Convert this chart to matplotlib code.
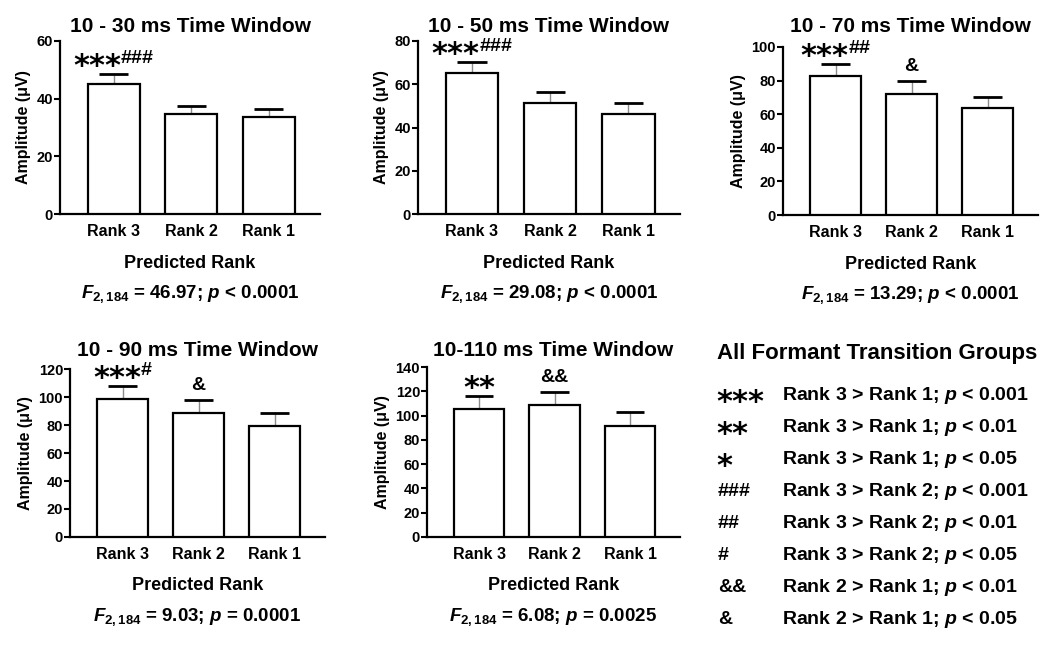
import matplotlib
matplotlib.use('Agg')
import matplotlib.pyplot as plt
import numpy as np

plt.rcParams['font.family'] = ['Liberation Sans', 'DejaVu Sans']
plt.rcParams['font.weight'] = 'bold'
plt.rcParams['axes.labelweight'] = 'bold'
plt.rcParams['mathtext.fontset'] = 'custom'
plt.rcParams['mathtext.rm'] = 'Liberation Sans:bold'
plt.rcParams['mathtext.it'] = 'Liberation Sans:italic:bold'
plt.rcParams['mathtext.bf'] = 'Liberation Sans:bold'
plt.rcParams['mathtext.sf'] = 'Liberation Sans:bold'

# data
ranks = ['Rank 3', 'Rank 2', 'Rank 1']
titles = ['10 - 30 ms Time Window', '10 - 50 ms Time Window', '10 - 70 ms Time Window',
          '10 - 90 ms Time Window', '10-110 ms Time Window']
means_30 = [45.2, 34.7, 33.6]
sem_30 = [3.2, 2.8, 2.9]
means_50 = [65.1, 51.2, 46.1]
sem_50 = [5.2, 5.2, 5.1]
means_70 = [82.7, 72.3, 63.6]
sem_70 = [7.2, 7.4, 6.8]
means_90 = [98.6, 88.6, 79.5]
sem_90 = [9.4, 9.0, 9.3]
means_110 = [105.3, 108.3, 91.8]
sem_110 = [10.5, 11.4, 11.3]
y_max = [60, 80, 100, 120, 140]
f_values = ['46.97', '29.08', '13.29', '9.03', '6.08']
p_values = ['< 0.0001', '< 0.0001', '< 0.0001', '= 0.0001', '= 0.0025']
# significance marks per bar: (main, superscript)
marks = [
    [('***', '###'), None, None],
    [('***', '###'), None, None],
    [('***', '##'), ('&', ''), None],
    [('***', '#'), ('&', ''), None],
    [('**', ''), ('&&', ''), None],
]
legend_symbols = ['***', '**', '*', '###', '##', '#', '&&', '&']
legend_texts = ['Rank 3 > Rank 1; $p$ < 0.001', 'Rank 3 > Rank 1; $p$ < 0.01',
                'Rank 3 > Rank 1; $p$ < 0.05', 'Rank 3 > Rank 2; $p$ < 0.001',
                'Rank 3 > Rank 2; $p$ < 0.01', 'Rank 3 > Rank 2; $p$ < 0.05',
                'Rank 2 > Rank 1; $p$ < 0.01', 'Rank 2 > Rank 1; $p$ < 0.05']

all_means = [means_30, means_50, means_70, means_90, means_110]
all_sems = [sem_30, sem_50, sem_70, sem_90, sem_110]

W, H = 1050, 646
fig = plt.figure(figsize=(W / 100, H / 100), dpi=100)
renderer = fig.canvas.get_renderer()

# axes boxes in pixels: left, right, top, bottom
boxes = [(60, 320, 41, 214), (418, 680, 41, 214), (783, 1038, 47, 215),
         (70, 325, 369, 537), (427, 680, 367, 537)]
title_y = [27, 27, 27, 350, 350]

bar_w = 0.67
star_font = dict(family='DejaVu Sans', fontsize=22, fontweight='bold')


def put_mark(ax, x, y, main, sup):
    if main.startswith('*'):
        dy1 = -1
        t1 = ax.annotate(main, xy=(x, y), xytext=(0, dy1), textcoords='offset pixels',
                         ha='left', va='baseline', **star_font)
    else:
        dy1 = 10
        t1 = ax.annotate(main, xy=(x, y), xytext=(0, dy1), textcoords='offset pixels',
                         ha='left', va='baseline', fontsize=14)
    w1 = t1.get_window_extent(renderer).width
    w2 = 0
    t2 = None
    if sup:
        t2 = ax.annotate(sup, xy=(x, y), xytext=(0, 11), textcoords='offset pixels',
                         ha='left', va='baseline', fontsize=14)
        w2 = t2.get_window_extent(renderer).width
    left = -(w1 + w2) / 2
    t1.xyann = (left, dy1)
    if t2 is not None:
        t2.xyann = (left + w1, 11)


for i in range(5):
    l, r, t, b = boxes[i]
    ax = fig.add_axes([l / W, 1 - b / H, (r - l) / W, (b - t) / H])
    x = np.arange(3)
    m = np.array(all_means[i])
    s = np.array(all_sems[i])
    ax.vlines(x, m, m + s, color='#8c8c8c', lw=1, zorder=1)
    ax.hlines(m + s, x - bar_w * 0.28, x + bar_w * 0.28, color='black', lw=2, zorder=2)
    ax.bar(x, m, width=bar_w, color='white', edgecolor='black', lw=1.6, zorder=3)
    ax.set_xlim(-0.69, 2.66)
    ax.set_ylim(0, y_max[i])
    ax.set_yticks(np.arange(0, y_max[i] + 1, 20))
    ax.set_xticks(x)
    ax.set_xticklabels(ranks, fontsize=11.5)
    ax.tick_params(axis='x', length=0, pad=7)
    ax.tick_params(axis='y', length=4, width=1.5, pad=1, labelsize=10.5)
    for sp in ['top', 'right']:
        ax.spines[sp].set_visible(False)
    for sp in ['left', 'bottom']:
        ax.spines[sp].set_linewidth(1.6)
    ax.set_ylabel('Amplitude (μV)', fontsize=11.5, labelpad=4)
    fig.text((l + r) / 2 / W, 1 - title_y[i] / H, titles[i], ha='center', va='center',
             fontsize=15)
    ax.annotate('Predicted Rank', xy=(0.5, 0), xycoords='axes fraction', xytext=(0, -49),
                textcoords='offset pixels', ha='center', va='center', fontsize=13)
    ax.annotate('$F_{\\mathrm{2,184}}$ = %s; $p$ %s' % (f_values[i], p_values[i]),
                xy=(0.5, 0), xycoords='axes fraction', xytext=(0, -80),
                textcoords='offset pixels', ha='center', va='center', fontsize=13.5)
    for j in range(3):
        if marks[i][j] is not None:
            put_mark(ax, x[j], m[j] + s[j], marks[i][j][0], marks[i][j][1])

# legend panel
fig.text(877 / W, 1 - 353 / H, 'All Formant Transition Groups', ha='center', va='center',
         fontsize=16)
for k in range(len(legend_symbols)):
    yc = 393 + 32 * k
    sym = legend_symbols[k]
    if sym.startswith('*'):
        fig.text(716 / W, 1 - (yc + 18) / H, sym, ha='left', va='baseline', **star_font)
    else:
        fig.text(718 / W, 1 - (yc + 7) / H, sym, ha='left', va='baseline', fontsize=14)
    fig.text(782 / W, 1 - (yc + 7) / H, legend_texts[k], ha='left', va='baseline',
             fontsize=14)

fig.savefig('out.png', dpi=100)
